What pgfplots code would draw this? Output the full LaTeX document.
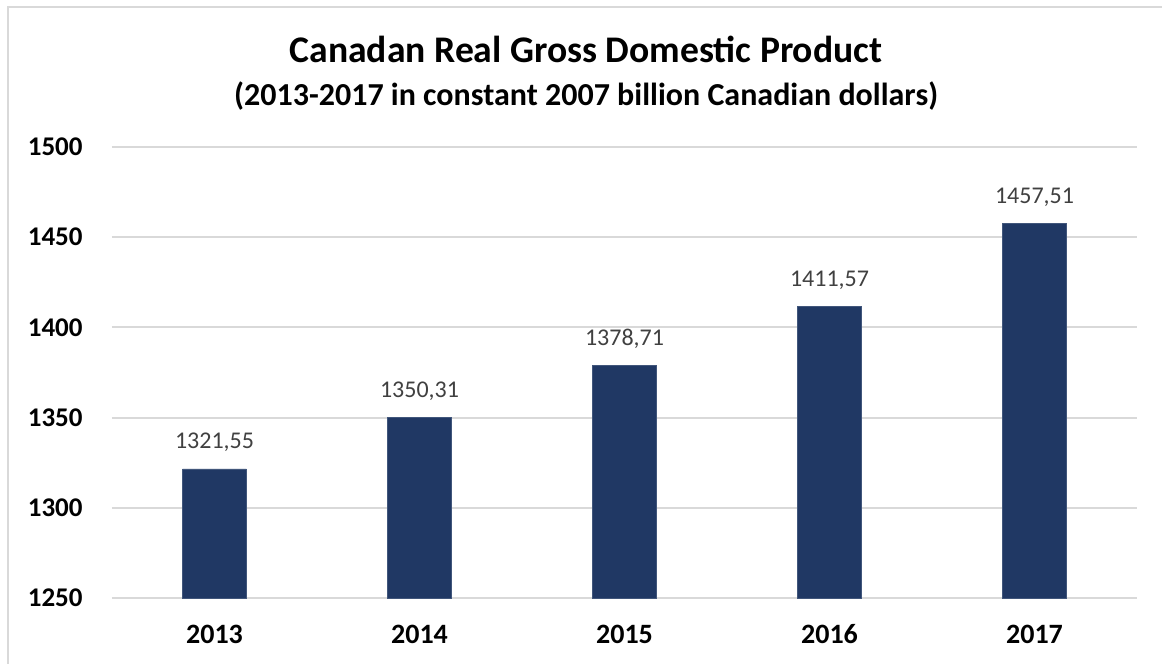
\documentclass[border=0pt]{standalone}
\usepackage{pgfplots}
\pgfplotsset{compat=1.18}
\usepackage{fontspec}
\setmainfont{Carlito}
\definecolor{barnavy}{HTML}{203864}
\definecolor{gridgray}{HTML}{D9D9D9}
\definecolor{labgray}{HTML}{404040}
\definecolor{framegray}{HTML}{D9D9D9}

\begin{document}
\begin{tikzpicture}[x=1pt,y=1pt]
% page = 1162x664 px at 0.5pt per px; axis lower-left at (112px,598px)
\useasboundingbox (-56,-33) rectangle (525,299);
\draw[framegray, line width=1pt] (-52,-60) -- (-52,295.5) -- (560,295.5);
\begin{axis}[
    at={(0,0)}, anchor=south west,
    scale only axis,
    width=512.5pt, height=225.5pt,
    ybar, bar width=0.312,
    xmin=-0.5, xmax=4.5,
    ymin=1250, ymax=1500,
    xtick={0,1,2,3,4},
    xticklabels={2013,2014,2015,2016,2017},
    ytick={1250,1300,1350,1400,1450,1500},
    yticklabels={1250,1300,1350,1400,1450,1500},
    axis line style={draw=none},
    major tick length=0pt,
    ymajorgrids, grid style={gridgray, line width=1pt},
    tick label style={font=\fontsize{13.5}{14}\selectfont\bfseries, text=black, inner sep=0pt},
    xticklabel style={anchor=base, yshift=-23pt, font=\fontsize{14}{15}\selectfont\bfseries},
    yticklabel style={anchor=east, xshift=-14.5pt},
    point meta=explicit symbolic,
    nodes near coords,
    every node near coord/.append style={anchor=base, yshift=10pt, inner sep=0pt,
        font=\fontsize{12}{13}\selectfont, text=labgray},
    clip=false,
]
\addplot[fill=barnavy, draw=barnavy!85!white, line width=0.4pt] table[meta=lab] {
x y lab
0 1321.55 1321,55
1 1350.31 1350,31
2 1378.71 1378,71
3 1411.57 1411,57
4 1457.51 1457,51
};
\end{axis}
\node[anchor=base, font=\fontsize{18.8}{22}\selectfont\bfseries] at (237,267.5) {Canadan Real Gross Domestic Product};
\node[anchor=base, font=\fontsize{16}{20}\selectfont\bfseries] at (237,246) {(2013-2017 in constant 2007 billion Canadian dollars)};
\end{tikzpicture}
\end{document}
